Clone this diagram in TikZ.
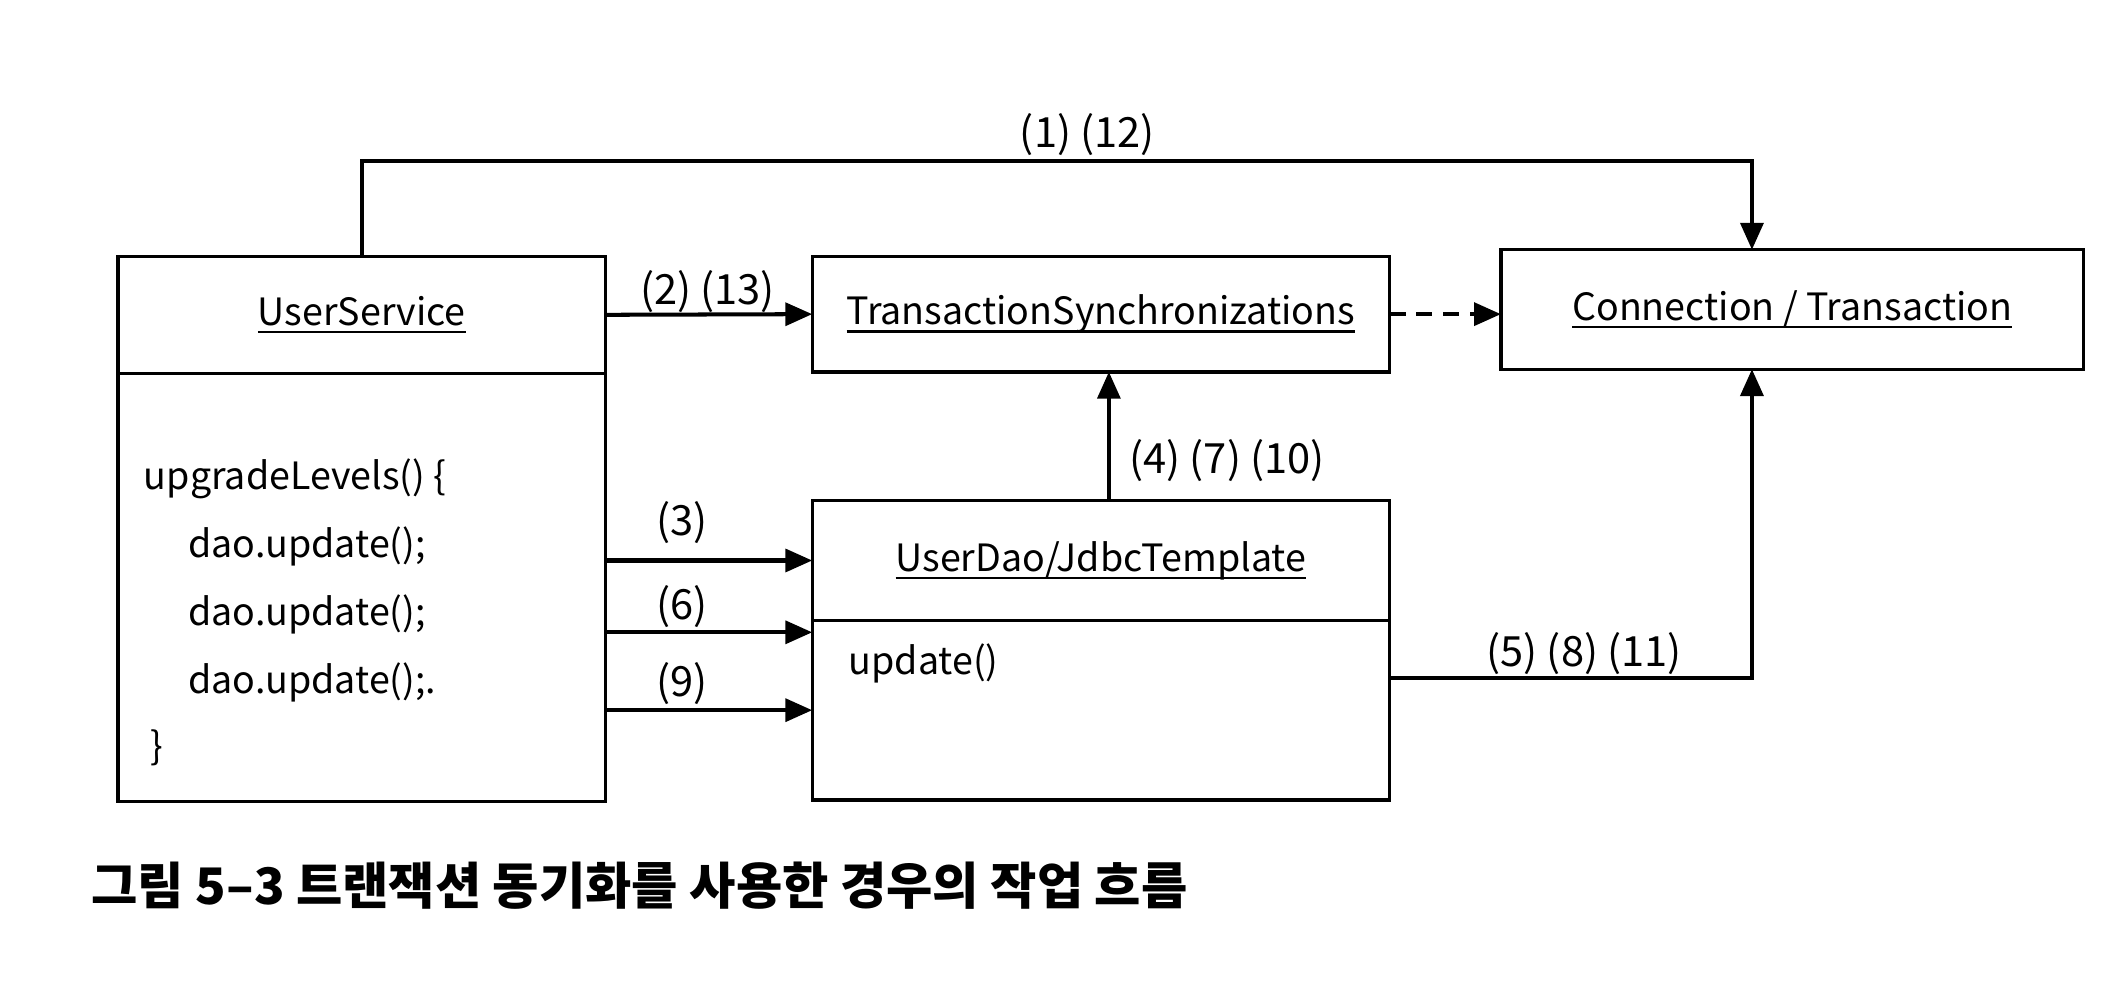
\documentclass[tikz,border=0pt]{standalone}
\usepackage{fontspec}
\setmainfont{Noto Sans CJK KR}
\usetikzlibrary{arrows.meta}
\newsavebox\ubox
\newcommand{\utext}[1]{\sbox\ubox{#1}\rlap{\rule[-6pt]{\wd\ubox}{1.8pt}}\usebox\ubox}

\begin{document}
\begin{tikzpicture}[x=1pt,y=-1pt]
		\tikzset{box/.style = {draw, line width=2.5pt, inner sep=0pt, outer sep=0pt, font=\fontsize{28}{34}\selectfont}}
		\tikzset{txt/.style = {inner sep=0pt, font=\fontsize{28}{34}\selectfont}}
		\tikzset{lbl/.style = {inner sep=0pt, font=\fontsize{31}{36}\selectfont}}
		\tikzset{edge/.style = {-{Triangle[length=20pt,width=17pt]}, line width=3pt}}
		
		\useasboundingbox (0,0) rectangle (1568,744);
		
		\node[box, minimum width=363, minimum height=87] (svcHead) at (269.5,234.5) {\utext{UserService}};
		\node[box, minimum width=363, minimum height=319, anchor=north] (svcBody) at (svcHead.south) {};
		\node[box, minimum width=430, minimum height=86] (syncBox) at (820,234) {\utext{TransactionSynchronizations}};
		\node[box, minimum width=434, minimum height=89] (ctBox) at (1335,230.5) {\utext{Connection / Transaction}};
		\node[box, minimum width=430, minimum height=89] (daoHead) at (820,417.5) {\utext{UserDao/JdbcTemplate}};
		\node[box, minimum width=430, minimum height=134, anchor=north] (daoBody) at (daoHead.south) {};
		
		\node[txt, anchor=west] (code1) at (107,357) {upgradeLevels() \{};
		\node[txt, anchor=west] (code2) at (140,407) {dao.update();};
		\node[txt, anchor=west] (code3) at (140,458) {dao.update();};
		\node[txt, anchor=west] (code4) at (140,508) {dao.update();.};
		\node[txt, anchor=west] (code5) at (112,557) {\}};
		\node[txt, anchor=west] (update) at (632,494) {update()};
		
		\coordinate (topBend) at (1305,120);
		
		\node[lbl] (lab1) at (810,100) {(1) (12)};
		\node[lbl] (lab2) at (527,217) {(2) (13)};
		\node[lbl] (lab3) at (508,389) {(3)};
		\node[lbl] (lab6) at (508,452) {(6)};
		\node[lbl] (lab9) at (508,509) {(9)};
		\node[lbl] (lab4) at (914,343) {(4) (7) (10)};
		\node[lbl] (lab5) at (1180,487) {(5) (8) (11)};
		
		\node[anchor=west, inner sep=0pt, font=\fontsize{37.5}{42}\selectfont\bfseries] (caption) at (68,660) {그림 5–3 트랜잭션 동기화를 사용한 경우의 작업 흐름};
		
		\draw[edge] (svcHead.north) |- (topBend) -- (ctBox.north -| topBend);
		\draw[edge] (svcHead.east) -- (syncBox.west);
		\draw[edge] (svcBody.east |- daoHead.west) -- (daoHead.west);
		\draw[edge] ([yshift=58pt]svcBody.east |- daoBody.west) -- ([yshift=58pt]daoBody.west);
		\draw[edge] (svcBody.east |- daoBody.west) -- (daoBody.west);
		\draw[edge] ([xshift=6pt]daoHead.north) -- ([xshift=6pt]syncBox.south);
		\draw[edge] ([yshift=24pt]daoBody.east) -| (ctBox.south -| topBend);
		
		\tikzset{edge/.style = {-{Triangle[length=20pt,width=17pt]}, line width=3pt, dash pattern=on 12pt off 8pt}}
		\draw[edge] (syncBox.east) -- (syncBox.east -| ctBox.west);
\end{tikzpicture}
\end{document}
